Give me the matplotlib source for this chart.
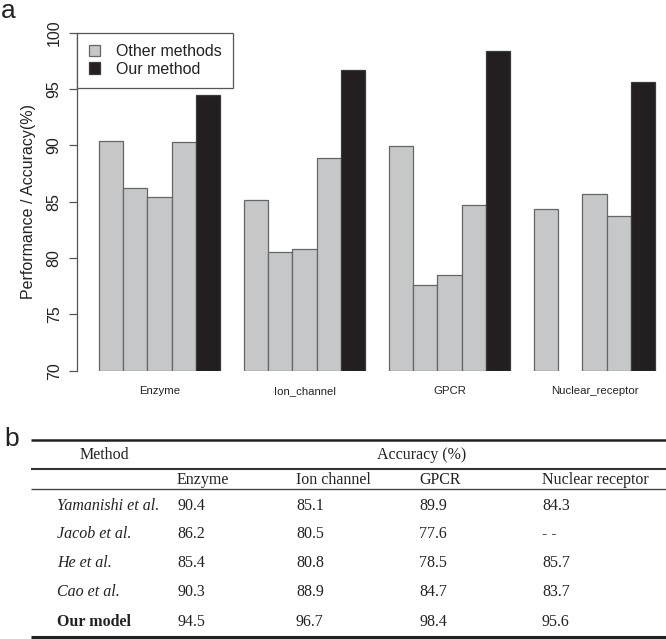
import matplotlib
matplotlib.use("Agg")
import matplotlib.pyplot as plt
from matplotlib.patches import Patch
import numpy as np

# ---------------- data ----------------
categories = ["Enzyme", "Ion_channel", "GPCR", "Nuclear_receptor"]
table_categories = ["Enzyme", "Ion channel", "GPCR", "Nuclear receptor"]
methods = ["Yamanishi et al.", "Jacob et al.", "He et al.", "Cao et al.", "Our model"]
yamanishi = [90.4, 85.1, 89.9, 84.3]
jacob = [86.2, 80.5, 77.6, None]
he_vals = [85.4, 80.8, 78.5, 85.7]
cao = [90.3, 88.9, 84.7, 83.7]
ours = [94.5, 96.7, 98.4, 95.6]
series = [yamanishi, jacob, he_vals, cao, ours]
y_ticks = [70, 75, 80, 85, 90, 95, 100]

# ---------------- figure ----------------
W, H = 666, 639
fig = plt.figure(figsize=(W / 100, H / 100), dpi=100)

sans = ["Liberation Sans", "DejaVu Sans"]
serif = ["Liberation Serif", "DejaVu Serif"]
txt = "#222222"

# bar axes placed in pixel space
ax_left, ax_right = 77, 666
ax_top, ax_bot = 32.5, 370.7
ax = fig.add_axes([ax_left / W, 1 - ax_bot / H, (ax_right - ax_left) / W, (ax_bot - ax_top) / H])

bar_w = 1.0
gray = "#c6c7c8"
black = "#231f20"
n_groups = len(categories)
n_series = len(series)
for g in range(n_groups):
    for s in range(n_series):
        v = series[s][g]
        if v is None:
            continue
        x = 1 + g * (n_series + 1) + s
        is_ours = s == n_series - 1
        ax.bar(x, v - 70, bottom=70, width=bar_w, align="edge",
               color=black if is_ours else gray,
               edgecolor="#3a3a3a" if is_ours else "#666666", linewidth=0.9)

px_per_unit = (655 - 99) / 23.0
x0 = 1 + (ax_left - 99) / px_per_unit
x1 = 1 + (ax_right - 99) / px_per_unit
ax.set_xlim(x0, x1)
ax.set_ylim(70, 100)

for sp in ["top", "right", "bottom"]:
    ax.spines[sp].set_visible(False)
ax.spines["left"].set_bounds(70, 100)
ax.spines["left"].set_color("#555555")
ax.spines["left"].set_linewidth(0.9)

ax.set_yticks(y_ticks)
ax.set_yticklabels([str(t) for t in y_ticks], rotation=90, va="center",
                   family=sans, fontsize=11.5, color=txt)
ax.tick_params(axis="y", length=6, width=0.9, color="#555555", pad=5)

centers = [1 + g * (n_series + 1) + n_series / 2 for g in range(n_groups)]
ax.set_xticks(centers)
ax.set_xticklabels(categories, family=sans, fontsize=8.2, color=txt)
ax.tick_params(axis="x", length=0, pad=11)

ax.set_ylabel("Performance / Accuracy(%)", family=sans, fontsize=11.5, color=txt, labelpad=8)

handles = [Patch(facecolor=gray, edgecolor="#666666", linewidth=0.9),
           Patch(facecolor=black, edgecolor="#3a3a3a", linewidth=0.9)]
leg = ax.legend(handles, ["Other methods", "Our method"], loc="upper left",
                bbox_to_anchor=(0, 1), borderaxespad=0, fancybox=False,
                framealpha=1, edgecolor="#555555", handlelength=0.75, handleheight=0.75,
                handletextpad=0.95, borderpad=0.72, labelspacing=0.18,
                prop={"family": sans, "size": 11.5})
leg.get_frame().set_linewidth(0.9)
for t in leg.get_texts():
    t.set_color(txt)

# panel letters
fig.text(1 / W, 1 - 18.5 / H, "a", family=sans, fontsize=19, color=txt, va="baseline", ha="left")
fig.text(4 / W, 1 - 446 / H, "b", family=sans, fontsize=19, color=txt, va="baseline", ha="left")

# ---------------- table (pixel coordinates) ----------------
tax = fig.add_axes([0, 0, 1, 1])
tax.set_xlim(0, W)
tax.set_ylim(H, 0)
tax.axis("off")

line_x0, line_x1 = 31, W
tax.plot([line_x0, line_x1], [440, 440], color="#222222", lw=1.8, solid_capstyle="butt")
tax.plot([line_x0, line_x1], [468.5, 468.5], color="#333333", lw=1.5, solid_capstyle="butt")
tax.plot([line_x0, line_x1], [488.8, 488.8], color="#444444", lw=1.0, solid_capstyle="butt")
tax.plot([line_x0, line_x1], [636.6, 636.6], color="#222222", lw=2.2, solid_capstyle="butt")

fs = 11.5
tax.text(80, 455, "Method", family=serif, fontsize=fs, color=txt, ha="left", va="center")
tax.text(422, 455, "Accuracy (%)", family=serif, fontsize=fs, color=txt, ha="center", va="center")
col_x = [177, 296, 419, 542]
for cx, lab in zip(col_x, table_categories):
    tax.text(cx, 480, lab, family=serif, fontsize=fs, color=txt, ha="left", va="center")

row_y = [505.5, 534, 563, 592.5, 621.5]
for r, (name, vals) in enumerate(zip(methods, series)):
    bold = name == "Our model"
    tax.text(57, row_y[r], name, family=serif, fontsize=fs, color=txt, ha="left", va="center",
             style="normal" if bold else "italic", weight="bold" if bold else "normal")
    for cx, v in zip(col_x, vals):
        tax.text(cx, row_y[r], "- -" if v is None else f"{v:.1f}", family=serif, fontsize=fs,
                 color=txt, ha="left", va="center")

fig.savefig("out.png", dpi=100)
